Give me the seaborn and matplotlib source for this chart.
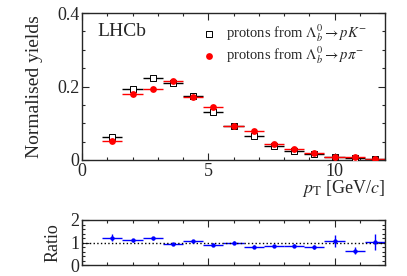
import matplotlib
matplotlib.use("Agg")
import matplotlib.pyplot as plt
from matplotlib.ticker import MultipleLocator
import seaborn as sns
import pandas as pd

# pT bins (GeV/c), 0.8 wide from 0.8 to 12
bin_centres = [1.2, 2.0, 2.8, 3.6, 4.4, 5.2, 6.0, 6.8, 7.6, 8.4, 9.2, 10.0, 10.8, 11.6]
bin_half = 0.4

# normalised yields
yield_pk = [0.063, 0.193, 0.222, 0.209, 0.174, 0.131, 0.093, 0.066, 0.038, 0.0245, 0.0155, 0.009, 0.006, 0.0035]
yield_ppi = [0.052, 0.180, 0.192, 0.216, 0.171, 0.145, 0.093, 0.080, 0.044, 0.029, 0.020, 0.009, 0.007, 0.004]

# ratio pK / ppi
ratio = [1.22, 1.09, 1.18, 0.955, 1.045, 0.91, 1.0, 0.82, 0.85, 0.85, 0.79, 1.06, 0.63, 1.01]
ratio_err = [0.17, 0.06, 0.05, 0.04, 0.04, 0.05, 0.05, 0.05, 0.06, 0.07, 0.09, 0.26, 0.15, 0.35]

sns.set_style("ticks")
plt.rcParams["font.family"] = ["Liberation Serif", "DejaVu Serif"]
plt.rcParams["mathtext.fontset"] = "stix"
plt.rcParams["xtick.direction"] = "in"
plt.rcParams["ytick.direction"] = "in"

df = pd.DataFrame({"pt": bin_centres, "pk": yield_pk, "ppi": yield_ppi,
                   "ratio": ratio, "ratio_err": ratio_err})

fig = plt.figure(figsize=(4.07, 2.76), dpi=100)
ax = fig.add_axes([82 / 407, 1 - 160 / 276, 303 / 407, 147 / 276])
rax = fig.add_axes([82 / 407, 1 - 265 / 276, 303 / 407, 45 / 276])

# main panel
ax.errorbar(df["pt"], df["pk"], xerr=bin_half, fmt="none", ecolor="black", elinewidth=1.0)
ax.errorbar(df["pt"], df["ppi"], xerr=bin_half, fmt="none", ecolor="red", elinewidth=1.0)
sns.scatterplot(data=df, x="pt", y="pk", ax=ax, marker="s", s=22, facecolor="white",
                edgecolor="black", linewidth=0.7, zorder=3,
                label=r"protons from $\mathit{\Lambda}_b^{\mathit{0}} \rightarrow pK^{-}$")
sns.scatterplot(data=df, x="pt", y="ppi", ax=ax, marker="o", s=24, color="red",
                edgecolor="red", linewidth=0, zorder=4,
                label=r"protons from $\mathit{\Lambda}_b^{\mathit{0}} \rightarrow p\pi^{-}$")

ax.set_xlim(0, 12)
ax.set_ylim(0, 0.4)
ax.xaxis.set_major_locator(MultipleLocator(5))
ax.xaxis.set_minor_locator(MultipleLocator(1))
ax.yaxis.set_major_locator(MultipleLocator(0.2))
ax.yaxis.set_minor_locator(MultipleLocator(0.05))
ax.yaxis.set_major_formatter(plt.FuncFormatter(lambda v, p: "0" if v == 0 else f"{v:.1f}"))
ax.tick_params(which="both", top=True, right=True, labelsize=13, width=0.8, pad=2)
ax.tick_params(which="major", length=5)
ax.tick_params(which="minor", length=2.5)
ax.set_xlabel(r"$p_{\mathrm{T}}$ [GeV/$c$]", fontsize=13, loc="right", labelpad=-1)
ax.set_ylabel("Normalised yields", fontsize=14, labelpad=10)
ax.text(0.05, 0.875, "LHCb", transform=ax.transAxes, fontsize=14, va="center")
ax.legend(loc="upper right", bbox_to_anchor=(0.965, 0.98), frameon=False, fontsize=10.5,
          handletextpad=0.7, borderaxespad=0.2, labelspacing=0.0, handlelength=1.0,
          borderpad=0.3)
for s in ax.spines.values():
    s.set_linewidth(1.0)

# ratio panel
rax.errorbar(df["pt"], df["ratio"], xerr=bin_half, yerr=df["ratio_err"], fmt="none",
             ecolor="blue", elinewidth=1.0)
sns.scatterplot(data=df, x="pt", y="ratio", ax=rax, marker="o", s=10, color="blue",
                linewidth=0, zorder=3)
rax.axhline(1, color="black", ls=":", lw=1.0)
rax.set_xlim(0, 12)
rax.set_ylim(0, 2)
rax.xaxis.set_major_locator(MultipleLocator(5))
rax.xaxis.set_minor_locator(MultipleLocator(1))
rax.yaxis.set_major_locator(MultipleLocator(1))
rax.yaxis.set_minor_locator(MultipleLocator(0.2))
rax.tick_params(which="both", top=True, right=True, labelsize=13, width=0.8, pad=2)
rax.tick_params(which="major", length=5)
rax.tick_params(which="minor", length=2.5)
rax.tick_params(axis="x", labelbottom=False)
rax.set_xlabel("")
rax.set_ylabel("Ratio", fontsize=13, labelpad=6)
for s in rax.spines.values():
    s.set_linewidth(1.0)

fig.savefig("out.png", dpi=100)
